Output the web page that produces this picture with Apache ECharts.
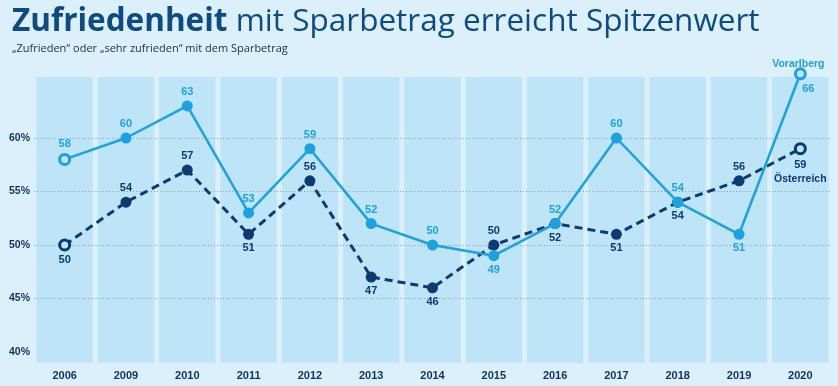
<!DOCTYPE html>
<html>
<head>
<meta charset="utf-8">
<script src="https://cdn.jsdelivr.net/npm/echarts@6/dist/echarts.min.js"></script>
<style>
html,body{margin:0;padding:0;background:#dcf0fb;}
#chart{width:838px;height:386px;}
</style>
</head>
<body>
<div id="chart"></div>
<script>
// ---- data ----
const categories = ['2006','2009','2010','2011','2012','2013','2014','2015','2016','2017','2018','2019','2020'];
const vorarlberg = [58,60,63,53,59,52,50,49,52,60,54,51,66];
const oesterreich = [50,54,57,51,56,47,46,50,52,51,54,56,59];
const yTickLabels = [40,45,50,55,60];
const yGridValues = [45,50,55,60];
const seriesNames = ['Vorarlberg','Österreich'];
const titleBold = 'Zufriedenheit';
const titleRest = ' mit Sparbetrag erreicht Spitzenwert';
const subtitle = '„Zufrieden“ oder „sehr zufrieden“ mit dem Sparbetrag';

// ---- styling ----
const C_V = '#1ba2df';
const C_O = '#0e3a72';
const C_BAR = '#bee4f8';
const C_BG = '#dcf0fb';
const vLabelPos = ['top','top','top','top','top','top','top','bottom','top','top','top','bottom','bottom'];
const oLabelPos = ['bottom','top','top','bottom','top','bottom','bottom','top','bottom','bottom','bottom','top','bottom'];
const labelFont = {fontFamily:'Liberation Sans', fontWeight:'bold', fontSize:11};

function buildData(values, color, positions){
  return values.map((v,i)=>{
    const hollow = (i===0 || i===values.length-1);
    return {
      value: v,
      symbolSize: hollow ? 10 : 11,
      itemStyle: hollow ? {color: C_BAR, borderColor: color, borderWidth: 3} : {color: color, borderWidth:0},
      label: {show:true, position: positions[i], distance: 3, color: color, ...labelFont}
    };
  });
}

const vData = buildData(vorarlberg, C_V, vLabelPos);
const oData = buildData(oesterreich, C_O, oLabelPos);
// last Vorarlberg label: value below-right
const vLast = vData[vData.length-1];
vLast.label = {
  show: true, position: 'bottom', distance: 3, offset: [8, 0], color: C_V, ...labelFont,
  formatter: function(p){ return p.value; }
};
// last Österreich label: value + series name below
const oLast = oData[oData.length-1];
oLast.label = {
  show: true, position: 'bottom', distance: 3, color: C_O, ...labelFont, lineHeight: 14, align: 'center',
  formatter: function(p){ return p.value + '\n{n|' + seriesNames[1] + '}'; },
  rich: {n: {color: C_O, ...labelFont, fontSize: 10.5, lineHeight: 14}}
};

const chart = echarts.init(document.getElementById('chart'), null, {renderer:'canvas'});
const option = {
  backgroundColor: C_BG,
  animation: false,
  title: {
    left: 7, top: 1,
    text: '{b|' + titleBold + '}' + titleRest,
    textStyle: {
      fontFamily: 'Open Sans', fontSize: 31.5, fontWeight: 'normal', color: '#0d4b80',
      rich: { b: {fontFamily:'Open Sans', fontSize:31.5, fontWeight:'bold', color:'#0d4b80'} }
    },
    subtext: subtitle,
    subtextStyle: {fontFamily:'Open Sans', fontSize: 11, color:'#1b2b45'},
    itemGap: 5
  },
  grid: {left: 34, right: 7, top: 77, bottom: 23.3, containLabel: false},
  xAxis: {
    type: 'category',
    data: categories,
    boundaryGap: true,
    axisLine: {show:false},
    axisTick: {show:false},
    axisLabel: {margin: 8, color: '#14305e', ...labelFont}
  },
  yAxis: {
    type: 'value',
    min: 39, max: 65.7,
    z: 3,
    axisLine: {show:false},
    axisTick: {show:false, customValues: yGridValues},
    axisLabel: {customValues: yTickLabels, formatter: '{value}%', margin: 4, color: '#14305e', ...labelFont, fontSize: 10.5},
    splitLine: {show:true, lineStyle: {color:'#8b9fb0', type:[1,2], width:1}}
  },
  series: [
    {
      type: 'bar',
      data: vorarlberg,
      barWidth: '92%',
      itemStyle: {opacity: 0},
      showBackground: true,
      backgroundStyle: {color: C_BAR},
      silent: true,
      z: 1
    },
    {
      name: seriesNames[0],
      type: 'line',
      data: vData,
      symbol: 'circle',
      clip: false,
      z: 6,
      lineStyle: {color: C_V, width: 2.5},
      itemStyle: {color: C_V},
      endLabel: {
        show: true, formatter: seriesNames[0], distance: 0, align: 'center', verticalAlign: 'middle',
        offset: [-2, -10], color: C_V, ...labelFont, fontSize: 10.5
      }
    },
    {
      name: seriesNames[1],
      type: 'line',
      data: oData,
      symbol: 'circle',
      clip: false,
      z: 5,
      lineStyle: {color: C_O, width: 3, type: [8,5]},
      itemStyle: {color: C_O}
    }
  ]
};
chart.setOption(option);
</script>
</body>
</html>
